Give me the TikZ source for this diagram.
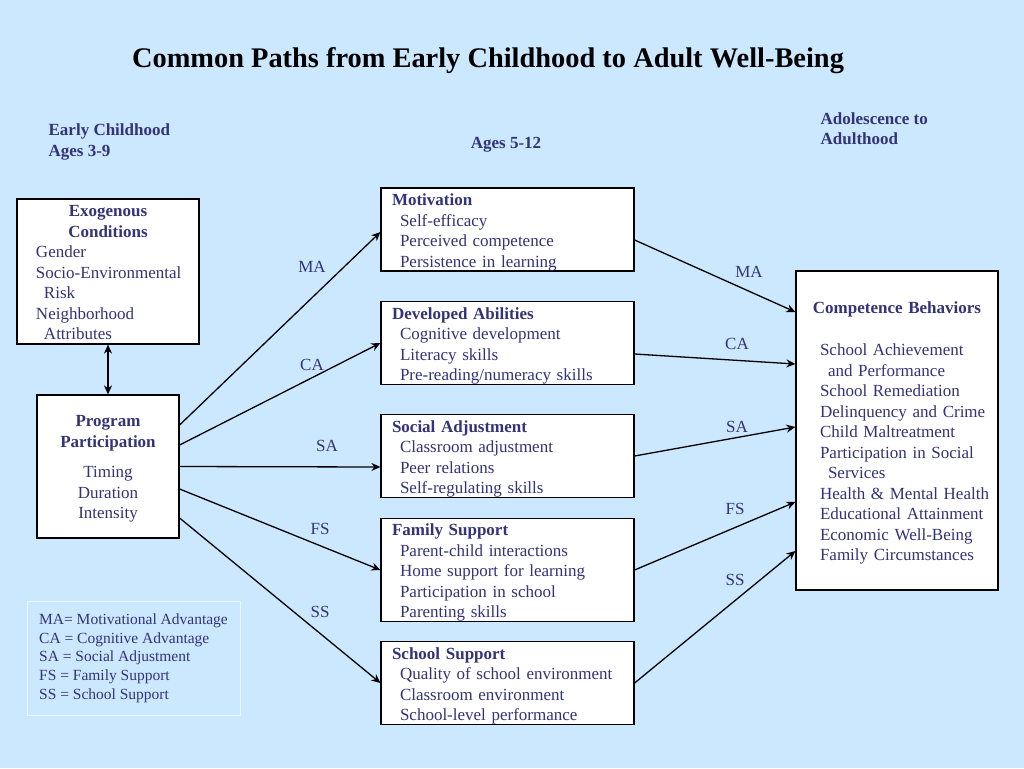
\documentclass[tikz,border=0pt]{standalone}
\usepackage{fontspec}
\setmainfont{Liberation Serif}
\usetikzlibrary{arrows.meta}
\definecolor{bgblue}{RGB}{204,232,255}
\definecolor{navy}{RGB}{51,51,119}
\definecolor{keyline}{RGB}{236,246,255}
\newcommand{\hd}[1]{\textbf{#1}}
\newcommand{\itm}[2][8pt]{\hspace*{#1}#2}
\newcommand{\ctr}[1]{\makebox[\hsize][c]{#1}}
\newcommand{\topgap}[1][17.5pt]{\rule{0pt}{#1}}
\tikzset{
  box/.style={draw, fill=white, line width=1.2pt, text=navy, inner ysep=0pt,
    font=\fontsize{17}{20.5}\selectfont},
  midbox/.style={box, text width=231pt, inner xsep=11pt, align=left, minimum height=82pt},
  lbl/.style={text=navy, inner sep=0pt, font=\fontsize{17}{20.5}\selectfont},
  hdlbl/.style={lbl, font=\fontsize{17}{20.5}\selectfont\bfseries}
}

\begin{document}
\begin{tikzpicture}[>={Stealth[length=9pt,width=8pt]}, line width=1.3pt]
\newcommand{\xx}{1pt}
\newcommand{\yy}{-1pt}
\path[use as bounding box, fill=bgblue] (0,0) rectangle (1024*\xx,768*\yy);
\node[lbl, font=\fontsize{28.4}{33}\selectfont\bfseries, text=black] (title) at (488*\xx,60.5*\yy) {Common Paths from Early Childhood to Adult Well-Being};
\node[hdlbl, align=left, anchor=west] (early) at (48*\xx,142*\yy) {Early Childhood\\Ages 3-9};
\node[hdlbl] (school) at (506*\xx,145*\yy) {Ages 5-12};
\node[hdlbl, align=left, anchor=west] (adult) at (820*\xx,128.5*\yy) {Adolescence to\\Adulthood};
%%%%%%%%%%%%%%% left column
\node[box, text width=162pt, inner xsep=10pt, minimum height=145pt, align=left] (exo) at (108*\xx,271.5*\yy) {\ctr{\topgap[13.5pt]\hd{Exogenous}}\\\ctr{\hd{Conditions}}\\\itm[9pt]{Gender}\\\itm[9pt]{Socio-Environmental}\\\itm[17pt]{Risk}\\\itm[9pt]{Neighborhood}\\\itm[17pt]{Attributes}};
\node[box, text width=122pt, inner xsep=10pt, minimum height=143pt, align=center] (prog) at (108*\xx,466.5*\yy) {\topgap[16.5pt]\hd{Program}\\\hd{Participation}\\[10pt]Timing\\Duration\\Intensity};
\node[draw=keyline, line width=1pt, text=navy, align=left, minimum width=213pt, minimum height=114pt, inner xsep=0pt, font=\fontsize{15.5}{18.7}\selectfont] (key) at (133.5*\xx,658*\yy) {MA= Motivational Advantage\\CA = Cognitive Advantage\\SA = Social Adjustment\\FS = Family Support\\SS = School Support};
%%%%%%%%%%%%%%% middle column
\node[midbox, minimum height=83pt] (mot) at (507.5*\xx,229.5*\yy) {\topgap\hd{Motivation}\\\itm{Self-efficacy}\\\itm{Perceived competence}\\\itm{Persistence in learning}};
\node[midbox] (dev) at (507.5*\xx,343*\yy) {\topgap\hd{Developed Abilities}\\\itm{Cognitive development}\\\itm{Literacy skills}\\\itm{Pre-reading/numeracy skills}};
\node[midbox] (soc) at (507.5*\xx,456*\yy) {\topgap\hd{Social Adjustment}\\\itm{Classroom adjustment}\\\itm{Peer relations}\\\itm{Self-regulating skills}};
\node[midbox, minimum height=102pt] (fam) at (507.5*\xx,570*\yy) {\topgap\hd{Family Support}\\\itm{Parent-child interactions}\\\itm{Home support for learning}\\\itm{Participation in school}\\\itm{Parenting skills}};
\node[midbox] (sch) at (507.5*\xx,683*\yy) {\topgap\hd{School Support}\\\itm{Quality of school environment}\\\itm{Classroom environment}\\\itm{School-level performance}};
%%%%%%%%%%%%%%% right column
\node[box, text width=192pt, inner xsep=5pt, minimum height=319pt, align=left] (comp) at (897*\xx,430.5*\yy) {\ctr{\topgap\hd{Competence Behaviors}}\\[21.5pt]\itm[19pt]{School Achievement}\\\itm[27pt]{and Performance}\\\itm[19pt]{School Remediation}\\\itm[19pt]{Delinquency and Crime}\\\itm[19pt]{Child Maltreatment}\\\itm[19pt]{Participation in Social}\\\itm[27pt]{Services}\\\itm[19pt]{Health \& Mental Health}\\\itm[19pt]{Educational Attainment}\\\itm[19pt]{Economic Well-Being}\\\itm[19pt]{Family Circumstances}};
%%%%%%%%%%%%%%% path labels
\node[lbl] (ma1) at (312*\xx,267*\yy) {MA};
\node[lbl] (ca1) at (312*\xx,365*\yy) {CA};
\node[lbl] (sa1) at (327*\xx,446*\yy) {SA};
\node[lbl] (fs1) at (320*\xx,529*\yy) {FS};
\node[lbl] (ss1) at (320*\xx,612*\yy) {SS};
\node[lbl] (ma2) at (749*\xx,272*\yy) {MA};
\node[lbl] (ca2) at (737*\xx,344*\yy) {CA};
\node[lbl] (sa2) at (737*\xx,427*\yy) {SA};
\node[lbl] (fs2) at (735*\xx,509*\yy) {FS};
\node[lbl] (ss2) at (735*\xx,580*\yy) {SS};
%%%%%%%%%%%%%%% connectors
\draw[<->] (exo.south) -- (prog.north);
\draw[->] ([yshift=41.5pt]prog.east) -- ([yshift=-2.5pt]mot.west);
\draw[->] ([yshift=21.5pt]prog.east) -- (dev.west);
\draw[->] (prog.east) -- ([yshift=-11pt]soc.west);
\draw[->] ([yshift=-22.5pt]prog.east) -- (fam.west);
\draw[->] ([yshift=-51.5pt]prog.east) -- (sch.west);
\draw[->] ([yshift=-10.5pt]mot.east) -- ([yshift=118.5pt]comp.west);
\draw[->] ([yshift=-11pt]dev.east) -- ([yshift=66.5pt]comp.west);
\draw[->] (soc.east) -- ([yshift=3.5pt]comp.west);
\draw[->] (fam.east) -- ([yshift=-71.5pt]comp.west);
\draw[->] (sch.east) -- ([yshift=-120.5pt]comp.west);
\end{tikzpicture}
\end{document}
